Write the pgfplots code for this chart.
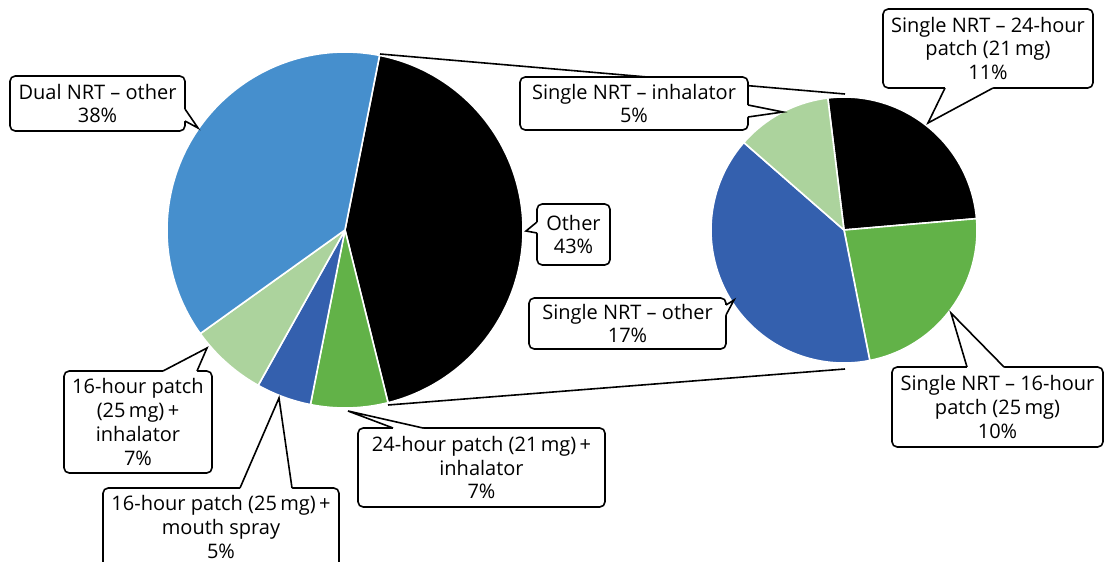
\documentclass[border=0pt]{standalone}
\usepackage{pgfplots}
\pgfplotsset{compat=1.18}
\usepackage{fontspec}
\setmainfont{Open Sans}
\definecolor{cBlack}{HTML}{000000}
\definecolor{cGreen}{HTML}{62B248}
\definecolor{cDBlue}{HTML}{3460AE}
\definecolor{cLGreen}{HTML}{ACD39D}
\definecolor{cLBlue}{HTML}{468FCD}
\tikzset{
  cbox/.style={draw=black, fill=white, line width=0.8pt, rounded corners=2.6pt},
  cline/.style={draw=black, line width=0.8pt, line join=miter},
  slice/.style={draw=white, line width=0.8pt, line join=round},
  lab/.style={align=center, font=\fontsize{10}{11.9}\selectfont, inner sep=0pt}}
\begin{document}
\begin{tikzpicture}
% ---- data (percent) ----
% left pie (clockwise from the top of "Other")
\def\Lother{43}\def\LtwoFour{7}\def\LmouthS{5}\def\LsixInh{7}\def\Ldual{38}
% right pie (breakdown of "Other")
\def\Rtf{11}\def\Rsix{10}\def\Rother{17}\def\Rinh{5}
% ---- angles ----
\pgfmathsetmacro\La{78.8}
\pgfmathsetmacro\Lb{\La-3.6*\Lother}
\pgfmathsetmacro\Lc{\Lb-3.6*\LtwoFour}
\pgfmathsetmacro\Ld{\Lc-3.6*\LmouthS}
\pgfmathsetmacro\Le{\Ld-3.6*\LsixInh}
\pgfmathsetmacro\Lf{\Le-3.6*\Ldual}
\pgfmathsetmacro\Rs{360/(\Rtf+\Rsix+\Rother+\Rinh)}
\pgfmathsetmacro\Ra{97}
\pgfmathsetmacro\Rb{\Ra-\Rs*\Rtf}
\pgfmathsetmacro\Rc{\Rb-\Rs*\Rsix}
\pgfmathsetmacro\Rd{\Rc-\Rs*\Rother}
\pgfmathsetmacro\Re{\Rd-\Rs*\Rinh}
\begin{axis}[x=0.5pt, y=0.5pt, xmin=0, xmax=1104, ymin=0, ymax=562,
  y dir=reverse, hide axis, clip=false, enlargelimits=false]
% left pie
\filldraw[slice, fill=cBlack] (345,230) -- ++(\La:89pt) arc[start angle=\La, end angle=\Lb, radius=89pt] -- cycle;
\filldraw[slice, fill=cGreen] (345,230) -- ++(\Lb:89pt) arc[start angle=\Lb, end angle=\Lc, radius=89pt] -- cycle;
\filldraw[slice, fill=cDBlue] (345,230) -- ++(\Lc:89pt) arc[start angle=\Lc, end angle=\Ld, radius=89pt] -- cycle;
\filldraw[slice, fill=cLGreen] (345,230) -- ++(\Ld:89pt) arc[start angle=\Ld, end angle=\Le, radius=89pt] -- cycle;
\filldraw[slice, fill=cLBlue] (345,230) -- ++(\Le:89pt) arc[start angle=\Le, end angle=\Lf, radius=89pt] -- cycle;
% right pie
\filldraw[slice, fill=cBlack] (844,230) -- ++(\Ra:66.5pt) arc[start angle=\Ra, end angle=\Rb, radius=66.5pt] -- cycle;
\filldraw[slice, fill=cGreen] (844,230) -- ++(\Rb:66.5pt) arc[start angle=\Rb, end angle=\Rc, radius=66.5pt] -- cycle;
\filldraw[slice, fill=cDBlue] (844,230) -- ++(\Rc:66.5pt) arc[start angle=\Rc, end angle=\Rd, radius=66.5pt] -- cycle;
\filldraw[slice, fill=cLGreen] (844,230) -- ++(\Rd:66.5pt) arc[start angle=\Rd, end angle=\Re, radius=66.5pt] -- cycle;
% connector lines
\addplot[black, line width=0.8pt, no marks] coordinates {(380,54) (845,94)};
\addplot[black, line width=0.8pt, no marks] coordinates {(388,405) (845,369)};
% callout 1: Dual NRT - other
\filldraw[cbox] (10,76) rectangle (185,131);
\fill[white] (181,109) -- (185,109) -- (198,128) -- (185,121) -- (181,121) -- cycle;
\draw[cline] (185,109) -- (198,128) -- (185,121);
\node[lab] at (97.5,103.5) {Dual NRT – other\\38\%};
% callout 2: Other
\filldraw[cbox] (537,204) rectangle (610,265);
\fill[white] (541,222) -- (537,222) -- (526,231) -- (537,233) -- (541,233) -- cycle;
\draw[cline] (537,222) -- (526,231) -- (537,233);
\node[lab] at (573.5,234.5) {Other\\43\%};
% callout 3: 16-hour patch + inhalator
\filldraw[cbox] (64,371) rectangle (212,473);
\fill[white] (163,375) -- (163,371) -- (207,348) -- (197,371) -- (197,375) -- cycle;
\draw[cline] (163,371) -- (207,348) -- (197,371);
\node[lab] at (138,422) {16-hour patch\\(25\,mg)\,+\\inhalator\\7\%};
% callout 4: 16-hour patch + mouth spray
\filldraw[cbox] (103,488) rectangle (339,568);
\fill[white] (240,492) -- (240,488) -- (279,398) -- (292,488) -- (292,492) -- cycle;
\draw[cline] (240,488) -- (279,398) -- (292,488);
\node[lab] at (221,527) {16-hour patch (25\,mg)\,+\\mouth spray\\5\%};
% callout 5: 24-hour patch + inhalator
\filldraw[cbox] (358,428) rectangle (605,507);
\fill[white] (393,432) -- (393,428) -- (348,411) -- (423,428) -- (423,432) -- cycle;
\draw[cline] (393,428) -- (348,411) -- (423,428);
\node[lab] at (481.5,467.5) {24-hour patch (21\,mg)\,+\\inhalator\\7\%};
% callout 6: Single NRT - inhalator
\filldraw[cbox] (520,77) rectangle (748,130);
\fill[white] (744,105) -- (748,105) -- (783,112) -- (748,117) -- (744,117) -- cycle;
\draw[cline] (748,105) -- (783,112) -- (748,117);
\node[lab] at (634,103.5) {Single NRT – inhalator\\5\%};
% callout 7: Single NRT - 24-hour patch
\filldraw[cbox] (883,9) rectangle (1093,88);
\fill[white] (945,84) -- (945,88) -- (928,123) -- (993,88) -- (993,84) -- cycle;
\draw[cline] (945,88) -- (928,123) -- (993,88);
\node[lab] at (988,48.5) {Single NRT – 24-hour\\patch (21\,mg)\\11\%};
% callout 8: Single NRT - other
\filldraw[cbox] (529,298) rectangle (726,349);
\fill[white] (722,305) -- (726,305) -- (734,300) -- (726,315) -- (722,315) -- cycle;
\draw[cline] (726,305) -- (734,300) -- (726,315);
\node[lab] at (627.5,323.5) {Single NRT – other\\17\%};
% callout 9: Single NRT - 16-hour patch
\filldraw[cbox] (892,367) rectangle (1103,447);
\fill[white] (967,371) -- (967,367) -- (951,313) -- (1004,367) -- (1004,371) -- cycle;
\draw[cline] (967,367) -- (951,313) -- (1004,367);
\node[lab] at (997.5,407) {Single NRT – 16-hour\\patch (25\,mg)\\10\%};
\end{axis}
\pgfresetboundingbox
\path[use as bounding box] (current axis.south west) rectangle (current axis.north east);
\end{tikzpicture}
\end{document}
